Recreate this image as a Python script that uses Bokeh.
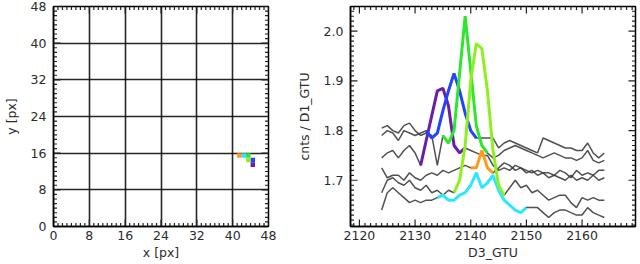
import numpy as np
from bokeh.plotting import figure
from bokeh.layouts import row
from bokeh.models import Range1d, FixedTicker, PrintfTickFormatter
from bokeh.embed import file_html
from bokeh.resources import INLINE

# ---------------- data ----------------
gtu = list(range(2124, 2165))

purple_curve = [1.745, 1.755, 1.76, 1.745, 1.76, 1.77, 1.755, 1.73, 1.78, 1.83,
                1.88, 1.885, 1.85, 1.77, 1.755, 1.765, 1.76, 1.755, 1.75, 1.75,
                1.73, 1.72, 1.725, 1.72, 1.73, 1.725, 1.72, 1.715, 1.72, 1.715,
                1.715, 1.71, 1.72, 1.715, 1.705, 1.72, 1.71, 1.715, 1.71, 1.72, 1.72]
blue_curve = [1.79, 1.80, 1.795, 1.78, 1.80, 1.795, 1.79, 1.795, 1.80, 1.785,
              1.795, 1.84, 1.88, 1.915, 1.88, 1.835, 1.80, 1.785, 1.785, 1.785,
              1.785, 1.765, 1.775, 1.78, 1.775, 1.77, 1.765, 1.76, 1.755, 1.785,
              1.78, 1.775, 1.77, 1.765, 1.765, 1.76, 1.76, 1.775, 1.755, 1.745, 1.755]
cyan_curve = [1.64, 1.675, 1.685, 1.675, 1.665, 1.655, 1.66, 1.655, 1.66, 1.66,
              1.665, 1.67, 1.66, 1.66, 1.67, 1.675, 1.69, 1.715, 1.685, 1.695,
              1.71, 1.68, 1.66, 1.65, 1.64, 1.635, 1.645, 1.645, 1.645, 1.635,
              1.625, 1.635, 1.64, 1.64, 1.635, 1.63, 1.63, 1.645, 1.635, 1.63, 1.625]
green_curve = [1.805, 1.81, 1.80, 1.795, 1.81, 1.815, 1.80, 1.79, 1.795, 1.79,
               1.73, 1.79, 1.775, 1.80, 1.915, 2.03, 1.92, 1.81, 1.77, 1.755,
               1.745, 1.75, 1.76, 1.765, 1.77, 1.765, 1.76, 1.755, 1.75, 1.745,
               1.75, 1.755, 1.75, 1.745, 1.745, 1.74, 1.745, 1.76, 1.74, 1.735, 1.74]
lime_curve = [1.675, 1.70, 1.705, 1.695, 1.69, 1.70, 1.685, 1.68, 1.69, 1.675,
              1.68, 1.67, 1.68, 1.675, 1.70, 1.77, 1.90, 1.975, 1.965, 1.88,
              1.76, 1.69, 1.67, 1.685, 1.70, 1.685, 1.69, 1.675, 1.68, 1.67,
              1.66, 1.665, 1.67, 1.67, 1.655, 1.645, 1.665, 1.66, 1.665, 1.66, 1.66]
orange_curve = [1.725, 1.705, 1.71, 1.71, 1.70, 1.715, 1.705, 1.70, 1.71, 1.715,
                1.71, 1.72, 1.715, 1.72, 1.725, 1.73, 1.725, 1.725, 1.76, 1.725,
                1.715, 1.725, 1.735, 1.73, 1.72, 1.725, 1.715, 1.72, 1.71, 1.715,
                1.705, 1.71, 1.705, 1.70, 1.71, 1.70, 1.705, 1.70, 1.71, 1.70, 1.705]

curves = [purple_curve, blue_curve, cyan_curve, green_curve, lime_curve, orange_curve]
seg_start = [2131, 2132, 2134, 2135, 2137, 2140]
seg_end = [2139, 2141, 2150, 2143, 2146, 2144]
colors = ["#6a1fa8", "#2244ff", "#2ee6ff", "#2ee62e", "#8ef020", "#ff9a1a"]

# triggered pixels on the camera
pix_x = [44, 44, 42, 43, 43, 41]
pix_y = [13, 14, 15, 15, 14, 15]

# tick labels
cam_ticks = [0, 8, 16, 24, 32, 40, 48]
gtu_ticks = [2120, 2130, 2140, 2150, 2160]
cnt_ticks = [1.7, 1.8, 1.9, 2.0]

FONT = "DejaVu Sans"
TICK_COL = "#222222"


def style_axis(ax, label, label_standoff, axis_standoff):
    ax.axis_label = label
    ax.major_tick_in = 0
    ax.major_tick_out = 0
    ax.minor_tick_in = 0
    ax.minor_tick_out = 0
    ax.axis_line_color = "black"
    ax.axis_line_width = 1.5
    ax.major_label_text_font = FONT
    ax.major_label_text_font_size = "12.5px"
    ax.major_label_text_color = "#2b2b2b"
    ax.axis_label_text_font = FONT
    ax.axis_label_text_font_size = "12.5px"
    ax.axis_label_text_font_style = "normal"
    ax.axis_label_text_color = "#2b2b2b"
    ax.major_label_standoff = label_standoff
    ax.axis_label_standoff = axis_standoff


def inner_ticks(p, x0, x1, y0, y1, xmaj, xmin, ymaj, ymin):
    """Draw inward tick marks on all four sides of the frame."""
    for pos, ln in ((xmaj, 7), (xmin, 3.5)):
        p.ray(x=pos, y=[y0] * len(pos), length=ln, length_units="screen",
              angle=np.pi / 2, line_color=TICK_COL, line_width=1.2)
        p.ray(x=pos, y=[y1] * len(pos), length=ln, length_units="screen",
              angle=-np.pi / 2, line_color=TICK_COL, line_width=1.2)
    for pos, ln in ((ymaj, 7), (ymin, 3.5)):
        p.ray(x=[x0] * len(pos), y=pos, length=ln, length_units="screen",
              angle=0, line_color=TICK_COL, line_width=1.2)
        p.ray(x=[x1] * len(pos), y=pos, length=ln, length_units="screen",
              angle=np.pi, line_color=TICK_COL, line_width=1.2)


# ---------------- left: camera map ----------------
p1 = figure(width=290, height=264, output_backend="svg", toolbar_location=None,
            x_range=Range1d(0, 48), y_range=Range1d(0, 48),
            min_border_left=50, min_border_right=22, min_border_top=6, min_border_bottom=38)
p1.outline_line_color = "black"
p1.outline_line_width = 1.5

p1.xaxis[0].ticker = FixedTicker(ticks=cam_ticks)
p1.yaxis[0].ticker = FixedTicker(ticks=cam_ticks)
style_axis(p1.xaxis[0], "x [px]", 4, 2)
style_axis(p1.yaxis[0], "y [px]", 7, 9)

for g in p1.grid:
    g.grid_line_color = "black"
    g.grid_line_width = 1.6
    g.grid_line_alpha = 0.85

cam_minor = [float(v) for v in np.arange(1, 48) if v % 8]
inner_ticks(p1, 0, 48, 0, 48, cam_ticks, cam_minor, cam_ticks, cam_minor)

p1.quad(left=pix_x, right=[v + 1 for v in pix_x], bottom=pix_y, top=[v + 1 for v in pix_y],
        fill_color=colors, line_color=None)

# ---------------- right: light curves ----------------
X0, X1, Y0, Y1 = 2118.4, 2169.6, 1.607, 2.0496
p2 = figure(width=350, height=264, output_backend="svg", toolbar_location=None,
            x_range=Range1d(X0, X1), y_range=Range1d(Y0, Y1),
            min_border_left=60, min_border_right=5, min_border_top=6, min_border_bottom=38)
p2.outline_line_color = "black"
p2.outline_line_width = 1.5
p2.xgrid.visible = False
p2.ygrid.visible = False

p2.xaxis[0].ticker = FixedTicker(ticks=gtu_ticks)
p2.yaxis[0].ticker = FixedTicker(ticks=cnt_ticks)
p2.yaxis[0].formatter = PrintfTickFormatter(format="%.1f")
style_axis(p2.xaxis[0], "D3_GTU", 4, 2)
style_axis(p2.yaxis[0], "cnts / D1_GTU", 7, 9)

x_minor = [float(v) for v in np.arange(2119, 2170) if v % 10]
y_minor = [round(float(v), 3) for v in np.arange(1.61, 2.045, 0.01)
           if abs(v * 10 - round(v * 10)) > 1e-6]
inner_ticks(p2, X0, X1, Y0, Y1, gtu_ticks, x_minor, cnt_ticks, y_minor)

for c in curves:
    p2.line(gtu, c, line_color="#333333", line_width=1.5, line_alpha=0.85)

for c, s, e, col in zip(curves, seg_start, seg_end, colors):
    xs = [g for g in gtu if s <= g <= e]
    ys = [v for g, v in zip(gtu, c) if s <= g <= e]
    p2.line(xs, ys, line_color=col, line_width=3)

layout = row(p1, p2)
open("out.html", "w").write(file_html(layout, INLINE))
